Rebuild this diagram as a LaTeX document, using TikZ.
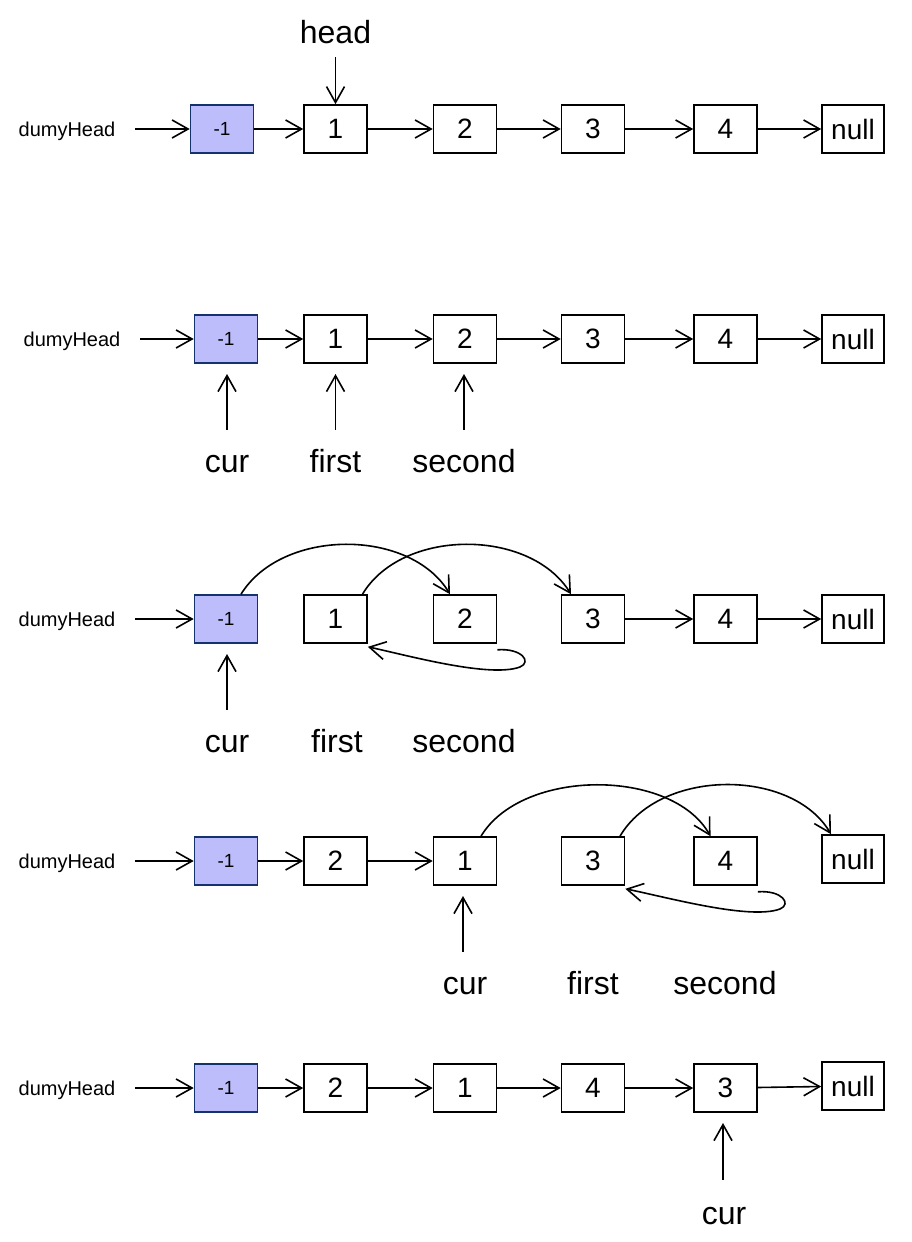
\documentclass[tikz,border=0pt]{standalone}
\usepackage{fontspec}
\setmainfont{Liberation Sans}
\usetikzlibrary{arrows.meta}
\definecolor{dfill}{RGB}{189,189,252}
\definecolor{dline}{RGB}{20,50,110}
\tikzset{
  nbox/.style={draw, line width=1.6pt, minimum width=63pt, minimum height=48pt, inner sep=0pt,
    font=\fontsize{28}{30}\selectfont},
  dbox/.style={nbox, fill=dfill, draw=dline, font=\fontsize{19}{21}\selectfont},
  lbl/.style={inner sep=0pt, anchor=base, font=\fontsize{32}{34}\selectfont},
  dlbl/.style={inner sep=0pt, anchor=base, font=\fontsize{20}{22}\selectfont},
  ar/.style={-{Straight Barb[length=16pt,width=18pt,line width=1.6pt]}, line width=1.6pt},
}
\begin{document}
\begin{tikzpicture}[x=1pt,y=-1pt]
\useasboundingbox (0,0) rectangle (912,1242);
% ---------- row 1
\node[dlbl] (h1) at (67,136) {dumyHead};
\node[dbox] (d1) at (222,129) {-1};
\node[nbox] (a1) at (335.5,129) {1};
\node[nbox] (b1) at (465,129) {2};
\node[nbox] (c1) at (593,129) {3};
\node[nbox] (e1) at (725.5,129) {4};
\node[nbox, minimum width=62pt] (n1) at (853,129) {null};
\node[lbl] (hd) at (335.5,43) {head};
\coordinate (hs) at (335.5,57);
\coordinate (hs1) at (135,129);
\draw[ar] (hs1) -- (d1);
\draw[ar] (hs) -- (a1);
\draw[ar] (d1) -- (a1);
\draw[ar] (a1) -- (b1);
\draw[ar] (b1) -- (c1);
\draw[ar] (c1) -- (e1);
\draw[ar] (e1) -- (n1);
% ---------- row 2
\node[dlbl] (h2) at (72,346) {dumyHead};
\node[dbox] (d2) at (226,339) {-1};
\node[nbox] (a2) at (335.5,339) {1};
\node[nbox] (b2) at (465,339) {2};
\node[nbox] (c2) at (593,339) {3};
\node[nbox] (e2) at (725.5,339) {4};
\node[nbox, minimum width=62pt] (n2) at (853,339) {null};
\coordinate (hs2) at (140,339);
\draw[ar] (hs2) -- (d2);
\draw[ar] (d2) -- (a2);
\draw[ar] (a2) -- (b2);
\draw[ar] (b2) -- (c2);
\draw[ar] (c2) -- (e2);
\draw[ar] (e2) -- (n2);
\node[lbl] (cur2) at (227,472) {cur};
\node[lbl] (fir2) at (335.5,472) {first};
\node[lbl] (sec2) at (464,472) {second};
\coordinate (p2a) at (227,430); \coordinate (q2a) at (227,374);
\coordinate (p2b) at (335.5,430); \coordinate (q2b) at (335.5,374);
\coordinate (p2c) at (464,430); \coordinate (q2c) at (464,374);
\draw[ar] (p2a) -- (q2a);
\draw[ar] (p2b) -- (q2b);
\draw[ar] (p2c) -- (q2c);
% ---------- row 3
\node[dlbl] (h3) at (67,626) {dumyHead};
\node[dbox] (d3) at (226,619) {-1};
\node[nbox] (a3) at (335.5,619) {1};
\node[nbox] (b3) at (465,619) {2};
\node[nbox] (c3) at (593,619) {3};
\node[nbox] (e3) at (725.5,619) {4};
\node[nbox, minimum width=62pt] (n3) at (853,619) {null};
\coordinate (hs3) at (135,619);
\draw[ar] (hs3) -- (d3);
\draw[ar] ([xshift=15pt]d3.north) .. controls (282,528) and (410,528) .. ([xshift=-15pt]b3.north);
\draw[ar] ([xshift=27pt]a3.north) .. controls (402,528) and (530,528) .. ([xshift=-22pt]c3.north);
\draw[ar] ([yshift=-6pt]b3.south east) .. controls (522,648) and (532,662) .. (520,667)
   .. controls (490,678) and (410,656) .. ([yshift=-3pt]a3.south east);
\draw[ar] (c3) -- (e3);
\draw[ar] (e3) -- (n3);
\node[lbl] (cur3) at (227,752) {cur};
\node[lbl] (fir3) at (337,752) {first};
\node[lbl] (sec3) at (464,752) {second};
\coordinate (p3a) at (227,710); \coordinate (q3a) at (227,654);
\draw[ar] (p3a) -- (q3a);
% ---------- row 4
\node[dlbl] (h4) at (67,868) {dumyHead};
\node[dbox] (d4) at (226,861) {-1};
\node[nbox] (a4) at (335.5,861) {2};
\node[nbox] (b4) at (465,861) {1};
\node[nbox] (c4) at (593,861) {3};
\node[nbox] (e4) at (725.5,861) {4};
\node[nbox, minimum width=62pt] (n4) at (853,859) {null};
\coordinate (hs4) at (135,861);
\draw[ar] (hs4) -- (d4);
\draw[ar] (d4) -- (a4);
\draw[ar] (a4) -- (b4);
\draw[ar] ([xshift=16pt]b4.north) .. controls (522,768) and (672,768) .. ([xshift=-15pt]e4.north);
\draw[ar] ([xshift=27pt]c4.north) .. controls (660,768) and (792,768) .. ([xshift=-22pt]n4.north);
\draw[ar] ([yshift=-6pt]e4.south east) .. controls (782,890) and (792,904) .. (780,909)
   .. controls (750,920) and (670,898) .. ([yshift=-3pt]c4.south east);
\node[lbl] (cur4) at (465,994) {cur};
\node[lbl] (fir4) at (593,994) {first};
\node[lbl] (sec4) at (725,994) {second};
\coordinate (p4a) at (463,952); \coordinate (q4a) at (463,896);
\draw[ar] (p4a) -- (q4a);
% ---------- row 5
\node[dlbl] (h5) at (67,1095) {dumyHead};
\node[dbox] (d5) at (226,1088) {-1};
\node[nbox] (a5) at (335.5,1088) {2};
\node[nbox] (b5) at (465,1088) {1};
\node[nbox] (c5) at (593,1088) {4};
\node[nbox] (e5) at (725.5,1088) {3};
\node[nbox, minimum width=62pt] (n5) at (853,1086) {null};
\coordinate (hs5) at (135,1088);
\draw[ar] (hs5) -- (d5);
\draw[ar] (d5) -- (a5);
\draw[ar] (a5) -- (b5);
\draw[ar] (b5) -- (c5);
\draw[ar] (c5) -- (e5);
\draw[ar] (e5) -- (n5);
\node[lbl] (cur5) at (724,1224) {cur};
\coordinate (p5a) at (723,1180); \coordinate (q5a) at (723,1123);
\draw[ar] (p5a) -- (q5a);
\end{tikzpicture}
\end{document}
